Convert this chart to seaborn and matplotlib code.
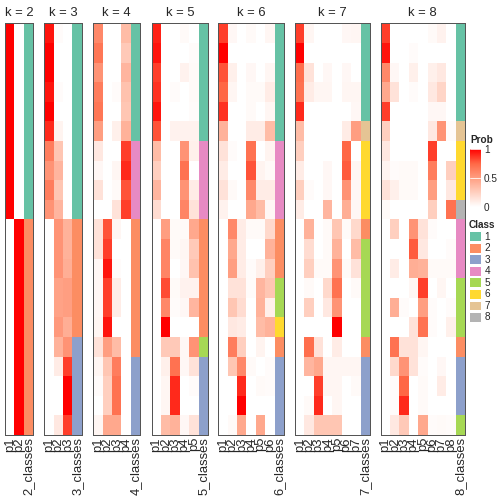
import numpy as np
import pandas as pd
import seaborn as sns
import matplotlib.pyplot as plt
from matplotlib.colors import LinearSegmentedColormap, ListedColormap
from matplotlib.patches import Patch

ks = [2, 3, 4, 5, 6, 7, 8]

prob_k2 = [[1, 0]] * 10 + [[0, 1]] * 11
class_k2 = [1] * 10 + [2] * 11

prob_k3 = [
    [0.95, 0.02, 0], [1, 0, 0], [1, 0, 0], [0.95, 0.02, 0], [1, 0, 0],
    [0.9, 0.06, 0], [0.65, 0.3, 0], [0.55, 0.38, 0], [0.65, 0.3, 0], [0.55, 0.38, 0],
    [0, 0.55, 0.4], [0, 0.55, 0.4], [0, 0.55, 0.42], [0, 0.48, 0.5], [0, 0.48, 0.5],
    [0, 0.52, 0.42], [0, 0.4, 0.55], [0, 0.1, 0.85], [0, 0, 1], [0, 0, 1], [0, 0.12, 0.85],
]
class_k3 = [1] * 10 + [2] * 6 + [3] * 5

prob_k4 = [
    [0.6, 0, 0, 0.35], [0.68, 0, 0, 0.28], [0.55, 0, 0, 0.38], [0.65, 0, 0.02, 0.32],
    [0.68, 0, 0, 0.3], [0.5, 0, 0.08, 0.4], [0.12, 0, 0, 0.85], [0.04, 0, 0.05, 0.9],
    [0.15, 0, 0.03, 0.8], [0, 0, 0.15, 0.85], [0.15, 0.8, 0.05, 0], [0.15, 0.85, 0, 0],
    [0.04, 0.95, 0.02, 0], [0.04, 0.85, 0.1, 0], [0.04, 0.85, 0.1, 0], [0.05, 0.95, 0, 0],
    [0.15, 0.5, 0.35, 0], [0.05, 0.3, 0.65, 0], [0.02, 0.25, 0.7, 0], [0, 0.25, 0.7, 0],
    [0.05, 0.45, 0.45, 0],
]
class_k4 = [1] * 6 + [4] * 4 + [2] * 7 + [3] * 4

prob_k5 = [
    [0.92, 0, 0, 0.03, 0], [0.95, 0, 0, 0, 0.02], [0.85, 0, 0, 0.07, 0.03],
    [0.88, 0, 0.02, 0, 0.03], [0.95, 0, 0, 0, 0.02], [0.8, 0, 0.07, 0.07, 0.07],
    [0.35, 0, 0, 0.55, 0.08], [0.25, 0, 0, 0.7, 0], [0.38, 0, 0, 0.55, 0.1],
    [0.18, 0, 0, 0.62, 0.15], [0, 0.5, 0.03, 0.03, 0.45], [0, 0.62, 0.03, 0.05, 0.28],
    [0, 0.62, 0, 0.04, 0.32], [0, 0.82, 0.03, 0.07, 0.07], [0, 0.6, 0.02, 0.04, 0.38],
    [0, 1, 0, 0, 0], [0, 0.28, 0.28, 0.04, 0.55], [0, 0.08, 0.7, 0.04, 0.15],
    [0, 0.05, 0.9, 0, 0.02], [0, 0.05, 0.9, 0, 0], [0, 0.35, 0.4, 0.04, 0.15],
]
class_k5 = [1] * 6 + [4] * 4 + [2] * 6 + [5] + [3] * 4

prob_k6 = [
    [0.85, 0.04, 0, 0.03, 0, 0.05], [1, 0, 0, 0, 0, 0], [0.8, 0.08, 0, 0.04, 0, 0.05],
    [0.75, 0.05, 0, 0.03, 0.03, 0.1], [0.88, 0, 0, 0.03, 0, 0.05], [0.4, 0, 0, 0.1, 0.1, 0.35],
    [0.15, 0.02, 0, 0.7, 0, 0.06], [0.1, 0, 0, 0.8, 0.06, 0.03], [0.15, 0.03, 0, 0.6, 0.1, 0.1],
    [0.07, 0, 0, 0.45, 0.35, 0.04], [0, 0.6, 0.1, 0.03, 0.03, 0.2], [0, 0.45, 0.1, 0, 0, 0.4],
    [0, 0.5, 0.1, 0.02, 0.08, 0.25], [0, 0.15, 0.15, 0.02, 0.38, 0.3], [0, 0.3, 0.18, 0, 0.4, 0.08],
    [0, 0.12, 0.1, 0, 0.35, 0.4], [0, 0.65, 0.25, 0, 0.06, 0], [0, 0.3, 0.6, 0.03, 0, 0.02],
    [0, 0, 0.9, 0, 0.03, 0.02], [0, 0, 1, 0, 0, 0], [0, 0.03, 0.45, 0, 0.45, 0],
]
class_k6 = [1] * 6 + [4] * 4 + [2] * 3 + [5] * 2 + [6] + [2] + [3] * 4

prob_k7 = [
    [0.85, 0.05, 0, 0, 0, 0.04, 0.05], [1, 0, 0, 0, 0, 0, 0], [0.72, 0.15, 0, 0.04, 0, 0.04, 0],
    [0.7, 0.1, 0.05, 0.05, 0, 0.05, 0.05], [0.9, 0, 0, 0, 0, 0, 0.04], [0.35, 0, 0, 0, 0, 0.1, 0.5],
    [0.25, 0, 0, 0, 0, 0.75, 0], [0.1, 0, 0, 0.04, 0, 0.78, 0.05], [0.25, 0.02, 0, 0.04, 0, 0.55, 0.04],
    [0.1, 0, 0, 0.38, 0, 0.42, 0.04], [0, 0.4, 0, 0.03, 0.3, 0.03, 0.2], [0, 0.18, 0, 0.03, 0.4, 0, 0.35],
    [0, 0.25, 0.03, 0.03, 0.55, 0.03, 0.15], [0, 0.03, 0, 0.2, 0.7, 0, 0.03], [0, 0.25, 0, 0.12, 0.55, 0, 0],
    [0, 0, 0, 0, 1, 0, 0], [0, 0.72, 0.15, 0, 0.1, 0, 0], [0, 0.38, 0.45, 0.05, 0.05, 0.05, 0.05],
    [0, 0, 0.85, 0.05, 0.05, 0, 0.03], [0, 0.03, 0.9, 0, 0.05, 0, 0], [0, 0.12, 0.3, 0.3, 0.3, 0, 0],
]
class_k7 = [1] * 5 + [7] + [6] * 4 + [2] + [5] * 5 + [2] + [3] * 4

prob_k8 = [
    [0.85, 0, 0, 0, 0, 0.03, 0.07, 0], [0.95, 0, 0, 0.02, 0, 0, 0, 0],
    [0.6, 0.04, 0, 0.08, 0, 0.08, 0.12, 0], [0.45, 0.15, 0, 0.02, 0, 0.12, 0.22, 0],
    [0.85, 0, 0, 0, 0, 0.04, 0.04, 0], [0.25, 0, 0, 0, 0, 0.12, 0.55, 0.02],
    [0.12, 0, 0, 0, 0, 0.85, 0, 0], [0.06, 0.02, 0.03, 0.03, 0, 0.65, 0, 0.25],
    [0.15, 0.08, 0.03, 0.03, 0, 0.5, 0, 0.12], [0.03, 0, 0, 0, 0, 0.25, 0, 0.7],
    [0, 0.25, 0, 0.55, 0.15, 0.02, 0, 0], [0, 0, 0, 0.78, 0.12, 0, 0, 0.02],
    [0, 0.1, 0, 0.42, 0.4, 0.03, 0.03, 0.03], [0, 0, 0, 0.05, 0.85, 0, 0.05, 0],
    [0, 0.42, 0.02, 0, 0.5, 0.02, 0, 0.02], [0, 0, 0, 0.15, 0.7, 0.02, 0, 0.08],
    [0, 0.7, 0.15, 0.15, 0.05, 0, 0, 0], [0, 0.2, 0.55, 0.15, 0.02, 0, 0.04, 0],
    [0, 0.02, 0.75, 0, 0.03, 0, 0.1, 0], [0, 0.02, 0.9, 0, 0.03, 0, 0, 0],
    [0, 0.12, 0.28, 0, 0.45, 0.02, 0.03, 0.02],
]
class_k8 = [1] * 5 + [7] + [6] * 3 + [8] + [4] * 3 + [5] * 3 + [2] + [3] * 3 + [5]

probs_all = [prob_k2, prob_k3, prob_k4, prob_k5, prob_k6, prob_k7, prob_k8]
classes_all = [class_k2, class_k3, class_k4, class_k5, class_k6, class_k7, class_k8]

class_names = ["1", "2", "3", "4", "5", "6", "7", "8"]
class_colors = ["#66C2A5", "#FC8D62", "#8DA0CB", "#E78AC3",
                "#A6D854", "#FFD92F", "#E5C494", "#B3B3B3"]

sns.set_theme(style="white")
plt.rcParams['font.family'] = ['Liberation Sans', 'DejaVu Sans']

# white -> red, interpolated in Lab like the original
prob_cmap = LinearSegmentedColormap.from_list(
    "prob", ["#FFFFFF", "#FFCFBF", "#FF9E81", "#FF6846", "#FF0000"])
class_cmap = ListedColormap(class_colors)

fig = plt.figure(figsize=(7, 7), dpi=72)
W = H = 504.0
lefts = [5, 44.3, 93.3, 151.7, 218.3, 295, 380.7]
col_w = 9.37
top, bottom = 23.3, 435

for i, k in enumerate(ks):
    cols = ["p%d" % j for j in range(1, k + 1)]
    df = pd.DataFrame(probs_all[i], columns=cols)
    df["%d_classes" % k] = classes_all[i]
    w = col_w * (k + 1)
    ax = fig.add_axes([lefts[i] / W, 1 - bottom / H, w / W, (bottom - top) / H])
    mask = np.zeros(df.shape, dtype=bool)
    mask[:, -1] = True
    sns.heatmap(df, mask=mask, cmap=prob_cmap, vmin=0, vmax=1, cbar=False, ax=ax)
    sns.heatmap(df, mask=~mask, cmap=class_cmap, vmin=0.5, vmax=8.5, cbar=False, ax=ax)
    ax.set_yticks([])
    ax.set_ylabel("")
    ax.set_xticks(np.arange(k + 1) + 0.5)
    ax.set_xticklabels(df.columns, rotation=90, fontsize=13)
    ax.tick_params(axis="x", length=0, pad=2)
    for s in ax.spines.values():
        s.set_visible(True)
        s.set_color("#555555")
        s.set_linewidth(1)
    ax.set_title("k = %d" % k, fontsize=13, pad=7)

# Prob legend
cax = fig.add_axes([470 / W, 1 - 207 / H, 11 / W, 58 / H])
sm = plt.cm.ScalarMappable(cmap=prob_cmap, norm=plt.Normalize(0, 1))
cb = fig.colorbar(sm, cax=cax, ticks=[0, 0.5, 1])
cb.ax.set_yticklabels(["0", "0.5", "1"], fontsize=10)
cb.ax.tick_params(length=0, pad=3)
cb.outline.set_visible(False)
for v in [0.5, 1]:
    cax.axhline(v, color="white", lw=0.8)
fig.text(470 / W, 1 - 140 / H, "Prob", fontsize=10, fontweight="bold", va="center")

# Class legend
handles = [Patch(facecolor=c, edgecolor="white", label=n) for c, n in zip(class_colors, class_names)]
fig.legend(handles=handles, title="Class", loc="upper left",
           bbox_to_anchor=(469 / W, 1 - 220 / H), frameon=False, fontsize=10,
           title_fontproperties={"weight": "bold", "size": 10},
           handlelength=1.15, handleheight=1.15, handletextpad=0.4,
           labelspacing=0.12, borderpad=0, borderaxespad=0, alignment="left")

fig.savefig("out.png", dpi=72)
